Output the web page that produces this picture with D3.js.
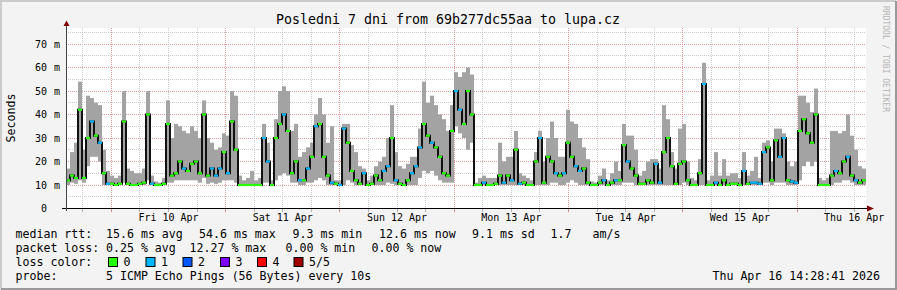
<!DOCTYPE html>
<html><head><meta charset="utf-8">
<script src="https://cdn.jsdelivr.net/npm/d3@7"></script>
<style>
body{margin:0;background:#f3f3f3}
text{font-family:"DejaVu Sans Mono",monospace;fill:#000}
</style>
</head><body>
<svg id="c" width="897" height="290"></svg>
<script>
// ---------- data ----------
const title = "Posledni 7 dni from 69b277dc55aa to lupa.cz";
const yTicks = [0, 10, 20, 30, 40, 50, 60, 70];
const dayLabels = ["Fri 10 Apr","Sat 11 Apr","Sun 12 Apr","Mon 13 Apr","Tue 14 Apr","Wed 15 Apr","Thu 16 Apr"];
const startTime = Date.UTC(2026, 3, 9, 14, 28, 41);
const endTime   = Date.UTC(2026, 3, 16, 14, 28, 41);

// median rtt (ms) per interval
const med = [12,14,13,42,13,30,37,31,28,15, 10.5,10.5,10,10.5,37,10.5,10,10,10.5,11,
 40,10.5,10,10,10.5,36,14,15,20,17, 16,19,20,15,40,14,17,14,17,24,
 15,37,25,10,10,10,10,10,10,30, 20,10,30,36,40,33,15,20,12,12,
 17,22,35,36,22,14,11,10.5,10,34, 28,16,12,10.5,15,10,10.5,14,12,16,
 18,30,12,10.5,10,12,15,18,26,36, 31,28,26,22,15,14,33,50,42,36,
 50,40,10,10,11,10,10,10.5,14,11, 14,12,25,10.5,11,10,10,20,30,11,
 22,20,15,14,15,28,22,18,16,17, 11,10,10,11,12,10,11,12,12,27,
 20,17,14,10.5,10.5,12,11,19,11,24, 30,18,10.5,19,20,12,10,10,15,53,
 10,10,11,10,12,10,10.5,10.5,10,16, 10.5,11,11,10.5,24,26,12,29,22,30,
 12,11.5,11,33,38,32,28,40,10,10, 10,14,16,15,20,22,14,12,11,12];
// lower edge of smoke (ms)
const lo = [10,11,10.5,12,11,18,22,22,20,10, 10,10,10,10,11,10,10,10,10,10,
 12,10,10,10,10,11,11,12,12,12, 12,12,12,11,13,10.5,11,10.5,11,12,
 12,12,11,10,10,10,10,10,10,11, 11,10,12,14,15,14,11,11,10,10,
 11,11,12,13,12,10,10,10,10,10, 12,11,10,10,10,10,10,10,10,10,
 11,10.5,10,10,10,10,10,10,13,16, 15,16,14,12,11,11,11,35,32,30,
 25,28,10,10,10,10,10,10,10,10, 10,10,10,10,10,10,10,10,10,10,
 10,11,11,10,10,11,12,11,10,10, 10,10,10,10,10,10,10,10,10,11,
 11,11,10,10,10,10,10,10,10,10, 10,10,10,10,11,10,10,10,10,10,
 10,10,10,10,10,10,10,10,10,10, 10,10,10,10,11,11,10,11,11,11,
 10,10,10,12,18,20,18,20,10,10, 10,10,11,11,12,12,11,10,10,10];
// upper edge of smoke (ms)
const hi = [17,24,28,54,25,48,47,45,44,25, 16,14,13,14,50,17,16,15,15,17,
 50,14,11.5,11,13,46,30,36,35,33, 32,35,33,30,46,30,28,25,26,32,
 31,50,48,14,12,13,16,12,13,36, 28,12,38,50,52,50,33,36,22,24,
 26,28,40,47,40,28,35,12,12,36, 36,27,24,18,17,12,14,18,20,22,
 30,44,24,18,17,19,22,22,34,54, 45,48,44,40,38,33,44,58,56,58,
 60,57,11,13,14,13,13,13,28,20, 22,22,33,15,14,13,12,24,33,20,
 30,37,30,22,22,42,37,36,30,26, 21,11.5,11,14,17,12,15,20,16,36,
 31,31,25,14,16,20,21,21,17,44, 38,24,17,34,36,20,13,12,21,62,
 12,14,24,14,21,14,15,15,13,24, 14,16,22,13,28,29,20,34,34,32,
 20,18,20,48,48,45,41,51,13,12, 13,33,33,32,33,40,31,25,18,17];
// lost pings (of 5) per interval
const loss = [0,0,0,0,0,0,1,0,1,0, 1,0,0,0,0,0,0,0,0,0,
 0,1,0,0,0,0,0,0,0,1, 0,0,0,0,0,0,1,1,1,0,
 1,0,0,0,0,0,0,0,0,1, 1,0,0,0,1,0,0,0,1,0,
 1,0,1,0,0,0,1,0,1,1, 0,0,0,0,1,0,0,0,0,1,
 1,0,1,0,0,0,1,1,1,0, 0,1,0,0,0,0,0,1,1,0,
 0,0,0,0,1,0,0,0,0,1, 0,1,0,1,0,0,0,0,1,0,
 0,0,1,0,1,0,0,1,1,0, 0,0,0,0,1,0,0,1,0,0,
 1,0,0,0,0,0,0,1,1,0, 0,0,0,0,0,0,0,0,0,1,
 0,0,1,0,0,0,0,0,0,1, 0,1,1,1,1,0,0,0,1,1,
 0,1,1,0,0,0,0,0,0,0, 0,0,1,0,0,1,0,1,0,0];

const lossColors = ["#26ff00","#00b8ff","#0059ff","#7e00ff","#ff0000","#a10000"];
const lossLabels = ["0","1","2","3","4","5/5"];

const rttLegend  = ["median rtt:", "15.6 ms avg", "54.6 ms max", "9.3 ms min", "12.6 ms now", "9.1 ms sd", "1.7", "am/s"];
const lossLegend = ["packet loss:", "0.25 % avg", "12.27 % max", "0.00 % min", "0.00 % now"];
const probeLegend = ["probe:", "5 ICMP Echo Pings (56 Bytes) every 10s"];
const stamp = "Thu Apr 16 14:28:41 2026";
const watermark = "RRDTOOL / TOBI OETIKER";

// ---------- layout ----------
const W = 897, H = 290;
const L = 66, R = 866, T = 28, B = 208.5;
const svg = d3.select("#c");

const x = d3.scaleUtc().domain([startTime, endTime]).range([L, R]);
const y = d3.scaleLinear().domain([0, (B - T) / 2.35]).range([B, T]);
const n = med.length;
const stepMs = (endTime - startTime) / n;
const times = d3.range(n + 1).map(i => new Date(startTime + i * stepMs));
const snap = v => Math.round(v - 0.5) + 0.5;

// background & frame
svg.append("rect").attr("width", W).attr("height", H).attr("fill", "#f3f3f3");
svg.append("path").attr("d", `M1,${H-1}V1H${W-1}`).attr("fill","none").attr("stroke","#cbcbcb").attr("stroke-width",2);
svg.append("path").attr("d", `M1,${H-1}H${W-1}V1`).attr("fill","none").attr("stroke","#9a9a9a").attr("stroke-width",2);

// canvas
svg.append("rect").attr("x", L).attr("y", T).attr("width", R - L).attr("height", B - T).attr("fill", "#fff");

const grid = svg.append("g");
// horizontal grid every 5 ms
d3.range(5, 76, 5).forEach(v => {
  const major = v % 10 === 0;
  grid.append("line").attr("x1", L).attr("x2", R).attr("y1", snap(y(v))).attr("y2", snap(y(v)))
    .attr("stroke", major ? "#d98c8c" : "#c4c4c4").attr("stroke-dasharray", "1,1").attr("stroke-opacity", major ? 0.85 : 0.9);
});
// vertical grid
const minorT = d3.utcHour.every(6).range(new Date(startTime), new Date(endTime));
const dayT = d3.utcDay.range(new Date(startTime), new Date(endTime));
minorT.forEach(d => {
  const major = d.getUTCHours() === 0;
  const xx = snap(x(d));
  grid.append("line").attr("x1", xx).attr("x2", xx).attr("y1", T).attr("y2", B)
    .attr("stroke", major ? "#d98c8c" : "#c4c4c4").attr("stroke-dasharray", "1,1").attr("stroke-opacity", 0.9);
  svg.append("line").attr("x1", xx).attr("x2", xx).attr("y1", 209).attr("y2", 212)
    .attr("stroke", major ? "#d98c8c" : "#b0b0b0");
});

// smoke
const plot = svg.append("g");
plot.selectAll("rect.smoke").data(d3.range(n)).join("rect")
  .attr("x", i => x(times[i])).attr("width", i => x(times[i + 1]) - x(times[i]))
  .attr("y", i => y(hi[i])).attr("height", i => y(lo[i]) - y(hi[i]))
  .attr("fill", "#a3a3a3");

// median connecting line (dark core)
const pts = med.map((v, i) => [times[i], v]).concat([[times[n], med[n - 1]]]);
plot.append("path").attr("d", d3.line().x(d => x(d[0])).y(d => y(d[1])).curve(d3.curveStepAfter)(pts))
  .attr("fill", "none").attr("stroke", "#111").attr("stroke-width", 2);

// median coloured by loss
plot.selectAll("line.med").data(d3.range(n)).join("line")
  .attr("x1", i => x(times[i])).attr("x2", i => x(times[i + 1]))
  .attr("y1", i => y(med[i])).attr("y2", i => y(med[i]))
  .attr("stroke", i => lossColors[loss[i]]).attr("stroke-width", 2.2);

// axes
svg.append("line").attr("x1", 62).attr("x2", 868).attr("y1", 208.5).attr("y2", 208.5).attr("stroke", "#000");
svg.append("line").attr("x1", 66.5).attr("x2", 66.5).attr("y1", 211).attr("y2", 25).attr("stroke", "#444");
svg.append("path").attr("d", "M867,205.5L874,208.5L867,211.5Z").attr("fill", "#7f0000");
svg.append("path").attr("d", "M63.5,26L66.5,20.5L69.5,26Z").attr("fill", "#7f0000");

// y labels
yTicks.forEach(v => {
  svg.append("text").attr("x", 47).attr("y", y(v)).attr("dy", "0.36em").attr("text-anchor", "end")
    .style("font-size", "10px").text(v);
  if (v > 0) svg.append("text").attr("x", 54).attr("y", y(v)).attr("dy", "0.36em")
    .style("font-size", "10px").text("m");
});
// x labels at noon
dayT.map(d => new Date(+d + 12 * 3600e3)).forEach((d, i) => {
  svg.append("text").attr("x", x(d)).attr("y", 221).attr("text-anchor", "middle")
    .style("font-size", "10px").text(dayLabels[i]);
});

// titles
svg.append("text").attr("x", 448).attr("y", 24).attr("text-anchor", "middle").style("font-size", "13.3px").text(title);
svg.append("text").attr("transform", "translate(15,118) rotate(-90)").attr("text-anchor", "middle")
  .style("font-size", "11.6px").text("Seconds");
svg.append("text").attr("transform", "translate(883,59) rotate(90)").attr("text-anchor", "middle")
  .style("font-size", "8px").style("fill", "#b4b4b4").text(watermark);

// legend
const fs = "11.6px";
const row = (items, xs, yy) => items.forEach((t, i) =>
  svg.append("text").attr("x", xs[i]).attr("y", yy).style("font-size", fs).text(t));
row(rttLegend, [15.5, 106, 199, 292.5, 379, 472, 550.5, 592.5], 238);
row(lossLegend, [15.5, 106, 189.5, 285.5, 371.5], 252);
svg.append("text").attr("x", 15.5).attr("y", 266).style("font-size", fs).text("loss color:");
const boxX = [108, 145.5, 182.5, 220, 257, 293.5];
lossLabels.forEach((t, i) => {
  svg.append("rect").attr("x", boxX[i] + 0.5).attr("y", 257.5).attr("width", 9).attr("height", 9)
    .attr("fill", lossColors[i]).attr("stroke", "#000");
  svg.append("text").attr("x", boxX[i] + 15.5).attr("y", 266).style("font-size", fs).text(t);
});
row(probeLegend, [15.5, 106], 280);
svg.append("text").attr("x", 880).attr("y", 280).attr("text-anchor", "end").style("font-size", fs).text(stamp);
</script>
</body></html>
